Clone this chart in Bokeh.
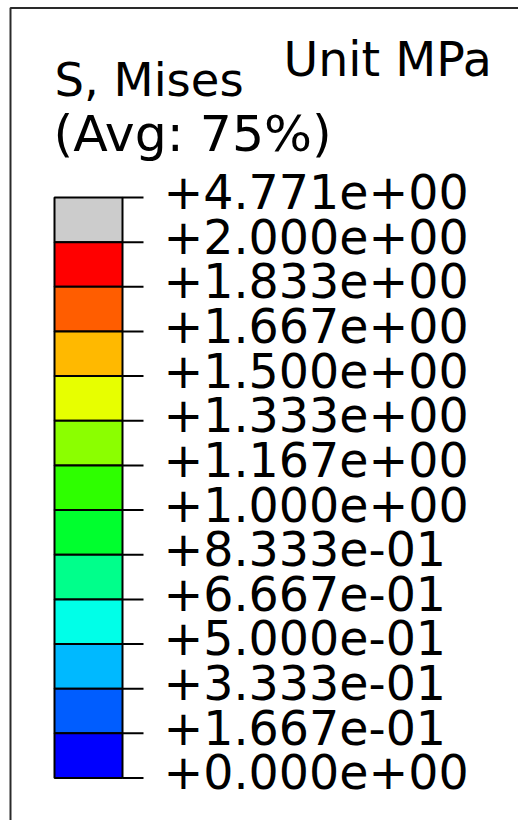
from bokeh.plotting import figure
from bokeh.models import Range1d, ColumnDataSource
from bokeh.core.properties import value
from bokeh.embed import file_html
from bokeh.resources import INLINE

# ---- data ----
level_labels = ["+4.771e+00", "+2.000e+00", "+1.833e+00", "+1.667e+00",
                "+1.500e+00", "+1.333e+00", "+1.167e+00", "+1.000e+00",
                "+8.333e-01", "+6.667e-01", "+5.000e-01", "+3.333e-01",
                "+1.667e-01", "+0.000e+00"]
band_colors = ["#CCCCCC", "#FF0000", "#FF5D00", "#FFB900", "#E7FF00",
               "#8BFF00", "#2EFF00", "#00FF2E", "#00FF8B", "#00FFE8",
               "#00B9FF", "#005DFF", "#0000FF"]
title_lines = ["S, Mises", "(Avg: 75%)"]
unit_text = "Unit MPa"

# ---- layout (page pixel coordinates) ----
W, H = 518, 820
X0, Y0 = 0, 0
BAR_TOP, BAR_BOT = 197.0, 777.5
BAR_L, BAR_R, TICK_R = 54, 122, 143
LABEL_X = 163
n_bands = len(band_colors)
band_h = (BAR_BOT - BAR_TOP) / n_bands
BASE_FIX = 0.37  # empirical baseline correction (fraction of font size)

p = figure(width=W, height=H, output_backend="svg", toolbar_location=None,
           x_range=Range1d(X0, X0 + W), y_range=Range1d(Y0 + H, Y0),
           min_border=0)
p.axis.visible = False
p.grid.visible = False
p.outline_line_color = None
p.background_fill_color = "white"
p.border_fill_color = "white"

# frame (left + top lines of the legend box)
p.quad(left=[10], right=[700], top=[7.5], bottom=[1000], fill_color=None,
       line_color="#2a2a2a", line_width=2)

# color bands
tops = [BAR_TOP + i * band_h for i in range(n_bands)]
bots = [BAR_TOP + (i + 1) * band_h for i in range(n_bands)]
src = ColumnDataSource(dict(top=tops, bottom=bots, color=band_colors))
p.quad(left=BAR_L, right=BAR_R, top="top", bottom="bottom", fill_color="color",
       line_color="black", line_width=2, source=src)

# ticks + labels
tick_y = [BAR_TOP + i * band_h for i in range(len(level_labels))]
p.segment(x0=[BAR_R] * len(tick_y), x1=[TICK_R] * len(tick_y), y0=tick_y, y1=tick_y,
          line_color="black", line_width=2)
fs_lab = 47.5
p.text(x=[LABEL_X] * len(tick_y), y=[t + 11.5 - BASE_FIX * fs_lab for t in tick_y],
       text=level_labels, text_font=value("DejaVu Sans"), text_font_size=f"{fs_lab}px",
       text_baseline="alphabetic", text_align="left", text_color="black")

# titles
p.text(x=[54], y=[97 - BASE_FIX * 46.5], text=[title_lines[0]],
       text_font=value("DejaVu Sans"), text_font_size="46.5px",
       text_baseline="alphabetic", text_align="left", text_color="black")
p.text(x=[53], y=[152 - BASE_FIX * 50.5], text=[title_lines[1]],
       text_font=value("DejaVu Sans"), text_font_size="50.5px",
       text_baseline="alphabetic", text_align="left", text_color="black")
p.text(x=[283], y=[77 - BASE_FIX * 47.5], text=[unit_text], text_font=value("DejaVu Sans"),
       text_font_size="47.5px", text_baseline="alphabetic", text_align="left",
       text_color="black")

open("out.html", "w").write(file_html(p, INLINE))
